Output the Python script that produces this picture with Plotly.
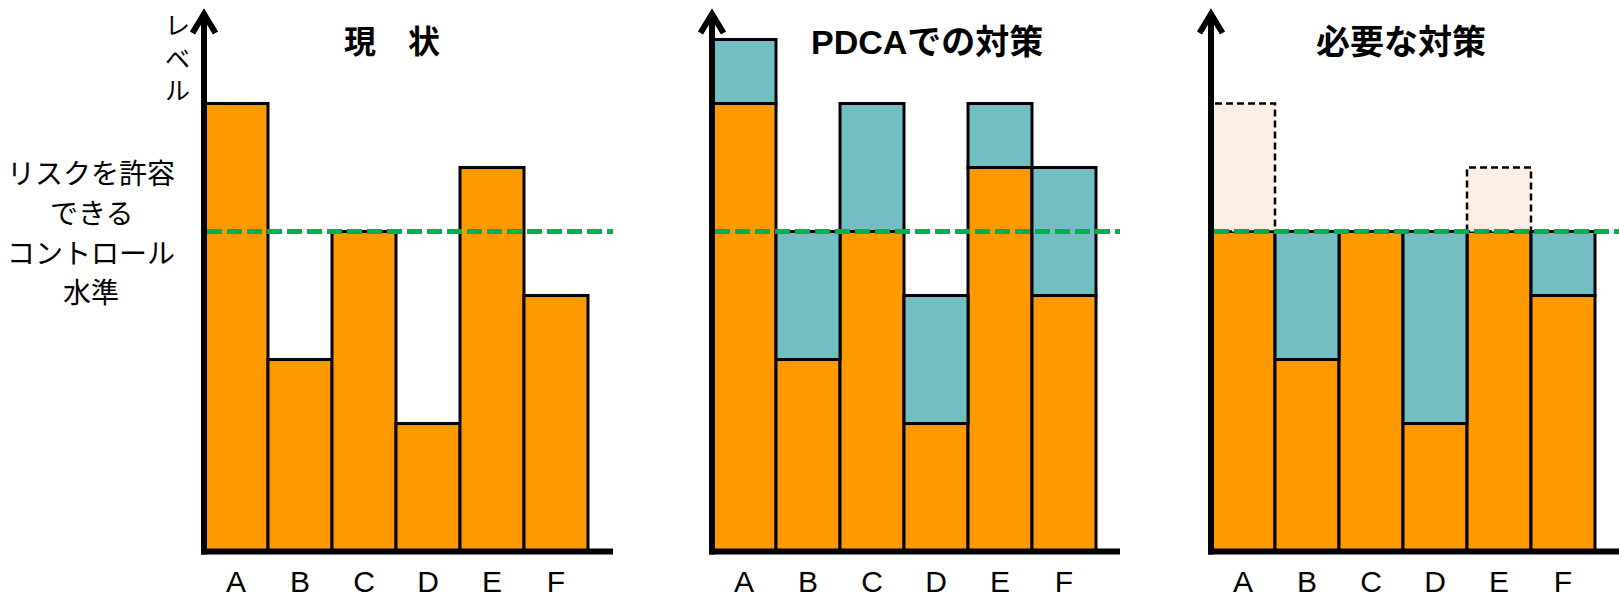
import plotly.graph_objects as go

# ---------------- data ----------------
categories = ["A", "B", "C", "D", "E", "F"]
current_level = [7, 3, 5, 2, 6, 4]            # 現状
pdca_added = [1, 2, 2, 2, 1, 2]               # PDCAでの対策 (teal, stacked on current)
required_level = [5, 3, 5, 2, 5, 4]           # 必要な対策 (orange)
required_added = [None, 2, None, 3, None, 1]  # 必要な対策 (teal)
required_removed = [2, 0, 0, 0, 1, 0]         # 必要な対策 (peach, above threshold)
threshold = 5                                  # リスクを許容できるコントロール水準

panel_titles = ["現　状", "PDCAでの対策", "必要な対策"]
threshold_label = ["リスクを許容", "できる", "コントロール", "水準"]
y_label = "レ<br>ベ<br>ル"

# ---------------- layout constants (pixels) ----------------
W, H = 1619, 599
BASE_PX = 551.5
UNIT_PX = 64.0
YB_PX = 558.0
AXIS_X = [204.0, 712.0, 1211.0]
AXIS_END = [613.0, 1120.0, 1619.0]
TITLE_X = [392.0, 927.0, 1401.0]
TITLE_SIZE = [32, 34, 34]
TITLE_Y = 42.0
LEFT_PAD = 26.0

ORANGE = "#FF9900"
TEAL = "#72BEC3"
PEACH = "#FDEEE3"
GREEN = "#00B050"

pos = list(range(len(categories)))


def px(x):
    return x / W


def py(y):
    return 1 - y / H


fig = go.Figure()

xaxes = ["x", "x2", "x3"]
end_units = []
for i in range(3):
    left = AXIS_X[i] - LEFT_PAD
    right = min(AXIS_END[i] + 4, W)
    r0 = -0.5 - (AXIS_X[i] - left) / UNIT_PX
    r1 = -0.5 + (right - AXIS_X[i]) / UNIT_PX
    end_units.append(-0.5 + (AXIS_END[i] - AXIS_X[i]) / UNIT_PX)
    key = "xaxis" if i == 0 else f"xaxis{i+1}"
    fig.layout[key] = dict(
        domain=[px(left), px(right)], range=[r0, r1], anchor="y",
        type="linear", tickmode="array", tickvals=pos, ticktext=categories,
        showgrid=False, zeroline=False, showline=False, ticks="", automargin=False,
        tickfont=dict(family="Liberation Sans, Arial, sans-serif", size=30, color="black"),
        ticklabelstandoff=3, fixedrange=True,
    )

fig.update_layout(
    yaxis=dict(domain=[py(YB_PX), 1],
               range=[-(YB_PX - BASE_PX) / UNIT_PX, BASE_PX / UNIT_PX], automargin=False,
               visible=False, showgrid=False, zeroline=False, fixedrange=True),
)

bar_line = dict(color="black", width=3)

# Panel 1: 現状
fig.add_trace(go.Bar(x=pos, y=current_level, width=1, xaxis="x", yaxis="y",
                     marker=dict(color=ORANGE, line=bar_line), showlegend=False))

# Panel 2: PDCAでの対策
fig.add_trace(go.Bar(x=pos, y=current_level, width=1, xaxis="x2", yaxis="y",
                     marker=dict(color=ORANGE, line=bar_line), showlegend=False))
fig.add_trace(go.Bar(x=pos, y=pdca_added, base=current_level, width=1,
                     xaxis="x2", yaxis="y",
                     marker=dict(color=TEAL, line=bar_line), showlegend=False))

# Panel 3: 必要な対策
fig.add_trace(go.Bar(x=pos, y=required_level, width=1, xaxis="x3", yaxis="y",
                     marker=dict(color=ORANGE, line=bar_line), showlegend=False))
fig.add_trace(go.Bar(x=pos, y=required_added, base=required_level, width=1,
                     xaxis="x3", yaxis="y",
                     marker=dict(color=TEAL, line=bar_line), showlegend=False))

# peach dashed boxes (removed excess above threshold)
bx, by = [], []
for i, r in zip(pos, required_removed):
    if r > 0:
        bx += [i - 0.5, i - 0.5, i + 0.5, i + 0.5, i - 0.5, None]
        by += [threshold, threshold + r, threshold + r, threshold, threshold, None]
fig.add_trace(go.Scatter(x=bx, y=by, xaxis="x3", yaxis="y", mode="lines",
                         fill="toself", fillcolor=PEACH,
                         line=dict(color="black", width=2.5, dash="7px,4px"),
                         showlegend=False, hoverinfo="skip", connectgaps=False))
fig.update_layout(barmode="overlay")

# threshold lines
for i in range(3):
    fig.add_trace(go.Scatter(x=[-0.5 + 3 / UNIT_PX, end_units[i]], y=[threshold, threshold],
                             xaxis=xaxes[i], yaxis="y", mode="lines",
                             line=dict(color=GREEN, width=5, dash="15px,5px"),
                             showlegend=False, hoverinfo="skip"))

# axes with arrows (decoration, pixel positioned)
shapes = []
for i in range(3):
    ax = AXIS_X[i]
    shapes.append(dict(type="line", xref="paper", yref="paper",
                       x0=px(ax), x1=px(ax), y0=py(BASE_PX + 3), y1=py(14),
                       line=dict(color="black", width=6)))
    shapes.append(dict(type="line", xref="paper", yref="paper",
                       x0=px(ax - 3), x1=px(AXIS_END[i]), y0=py(BASE_PX), y1=py(BASE_PX),
                       line=dict(color="black", width=6)))
    path = (f"M{px(ax - 11.5)},{py(33)} L{px(ax)},{py(14)} L{px(ax + 11.5)},{py(33)}")
    shapes.append(dict(type="path", xref="paper", yref="paper", path=path,
                       line=dict(color="black", width=6)))
fig.update_layout(shapes=shapes)

# titles
annotations = []
for t, tx, ts in zip(panel_titles, TITLE_X, TITLE_SIZE):
    annotations.append(dict(text=f"<b>{t}</b>", x=px(tx), y=py(TITLE_Y), xref="paper", yref="paper",
                            showarrow=False, xanchor="center", yanchor="middle",
                            font=dict(family="Liberation Sans, Noto Sans CJK JP", size=ts, color="black")))
# threshold label
for t, ty in zip(threshold_label, [172, 212, 252, 291]):
    annotations.append(dict(text=t, x=px(91), y=py(ty), xref="paper", yref="paper",
                            showarrow=False, xanchor="center", yanchor="middle",
                            font=dict(family="Noto Sans CJK JP", size=28, color="black")))
# vertical y label
annotations.append(dict(text=y_label, x=px(177), y=py(57), xref="paper", yref="paper",
                        showarrow=False, xanchor="center", yanchor="middle",
                        font=dict(family="Noto Sans CJK JP", size=25, color="black")))
fig.update_layout(annotations=annotations)

fig.update_layout(width=W, height=H, margin=dict(l=0, r=0, t=0, b=0, autoexpand=False),
                  paper_bgcolor="white", plot_bgcolor="white", showlegend=False)

fig.write_html("out.html", config={"displayModeBar": False},
               post_script="document.body.style.margin='0';document.body.style.padding='0';"
                           "document.documentElement.style.overflow='hidden';")
